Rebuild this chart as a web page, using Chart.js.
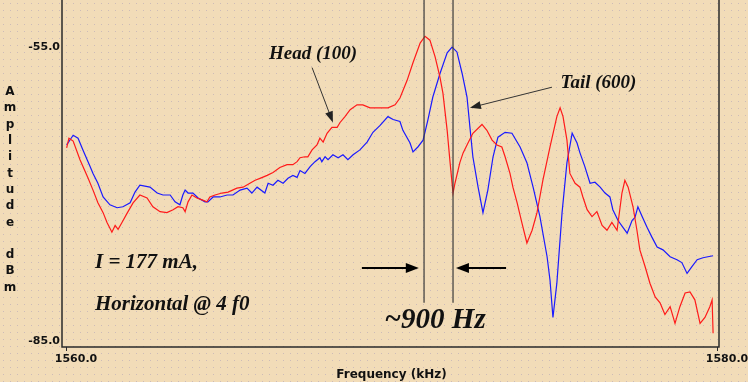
<!DOCTYPE html>
<html>
<head>
<meta charset="utf-8">
<script src="https://cdn.jsdelivr.net/npm/chart.js@4.4.1/dist/chart.umd.min.js"></script>
<style>
  html, body { margin: 0; padding: 0; }
  body {
    width: 748px; height: 382px; overflow: hidden;
    background-color: #F2DCB8;
    background-image: radial-gradient(circle, rgba(175,160,185,0.55) 0.7px, transparent 0.9px);
    background-size: 7px 7px;
  }
  #wrap { position: relative; width: 748px; height: 382px; }
</style>
</head>
<body>
<div id="wrap"><canvas id="c" width="748" height="382"></canvas></div>
<script>
// ---- data (frequency in kHz, level in dBm) ----
const headFreq = [1560.02,1560.09,1560.22,1560.43,1560.68,1560.83,1560.98,1561.14,1561.26,1561.35,1561.41,1561.51,1561.60,1561.72,1561.87,1562.06,
  1562.27,1562.49,1562.67,1562.89,1563.10,1563.29,1563.44,1563.59,1563.66,1563.75,1563.87,1564.02,1564.18,1564.33,1564.42,1564.58,1564.79,1564.98,1565.25,1565.44,1565.65,1565.81,1565.96,1566.18,1566.36,1566.57,1566.79,1566.97,1567.10,1567.19,1567.34,1567.43,1567.56,1567.71,1567.80,1567.90,1568.02,1568.17,1568.33,1568.42,1568.57,1568.73,1568.94,1569.12,1569.34,1569.65,1569.89,1570.11,1570.26,
  1570.48,1570.66,1570.88,1571.03,1571.18,1571.34,1571.49,1571.58,1571.71,1571.80,1571.89,1571.95,1572.10,1572.20,1572.35,1572.50,1572.78,1572.93,1573.09,1573.24,1573.39,1573.49,1573.64,1573.73,1573.86,1574.01,1574.16,1574.32,1574.47,1574.65,1574.87,1575.08,1575.18,1575.27,1575.39,1575.48,1575.64,1575.79,1575.88,1576.01,1576.16,1576.31,1576.47,1576.62,1576.77,1576.93,1577.08,1577.17,1577.27,1577.42,1577.54,1577.63,1577.79,1577.94,1578.10,1578.25,1578.40,1578.56,1578.71,1578.86,1579.02,1579.17,1579.32,1579.48,1579.63,1579.78,1579.85,1579.88];
const headDbm = [-65.3,-64.3,-64.6,-66.5,-68.4,-69.6,-70.9,-71.9,-72.9,-73.5,-73.9,-73.2,-73.6,-72.9,-72.0,-70.9,
  -70.1,-70.4,-71.3,-71.8,-71.9,-71.6,-71.3,-71.4,-71.8,-70.8,-70.1,-70.4,-70.6,-70.8,-70.3,-70.1,-69.9,-69.8,-69.4,-69.3,-68.9,-68.6,-68.4,-68.1,-67.8,-67.3,-67.0,-67.0,-66.7,-66.3,-66.2,-66.2,-65.5,-65.0,-64.3,-64.7,-63.8,-63.2,-63.2,-62.7,-62.1,-61.4,-60.9,-60.9,-61.2,-61.2,-61.2,-60.9,-60.2,
  -58.4,-56.6,-54.6,-53.9,-54.3,-56.0,-58.1,-59.7,-63.5,-66.8,-69.9,-68.9,-66.8,-65.8,-64.8,-63.8,-62.9,-63.5,-64.5,-65.0,-65.2,-66.2,-67.9,-69.3,-70.9,-73.0,-75.0,-73.7,-71.9,-68.6,-65.2,-62.1,-61.2,-62.1,-64.5,-67.9,-68.9,-69.3,-70.3,-71.6,-72.3,-71.8,-73.2,-73.7,-72.9,-73.7,-69.9,-68.6,-69.3,-71.3,-73.7,-75.7,-77.4,-79.1,-80.5,-81.1,-82.3,-81.5,-83.2,-81.5,-80.1,-80.0,-80.8,-83.2,-82.6,-81.5,-80.8,-84.2];

const tailFreq = [1560.02,1560.22,1560.37,1560.52,1560.74,1560.83,1560.98,1561.14,1561.35,1561.57,1561.75,1561.97,1562.12,
  1562.27,1562.58,1562.80,1562.98,1563.20,1563.35,1563.50,1563.59,1563.66,1563.75,1563.90,1564.06,1564.27,1564.36,1564.52,1564.73,1564.95,1565.13,1565.35,1565.56,1565.71,1565.87,1566.11,1566.21,1566.36,1566.51,1566.67,1566.82,1566.97,1567.10,1567.19,1567.34,1567.50,1567.65,1567.80,1567.86,1567.96,1568.05,1568.20,1568.36,1568.51,1568.66,1568.82,1569.03,1569.25,1569.43,1569.65,1569.89,1570.05,1570.26,
  1570.35,1570.57,1570.66,1570.81,1570.97,1571.12,1571.27,1571.49,1571.71,1571.86,1572.01,1572.17,1572.32,1572.41,1572.50,1572.66,1572.81,1572.96,1573.12,1573.27,1573.49,1573.70,1573.95,1574.16,1574.35,1574.56,1574.78,1574.87,1574.96,1575.08,1575.24,1575.39,1575.55,1575.70,1575.79,1575.94,1576.10,1576.25,1576.41,1576.56,1576.71,1576.80,1576.96,1577.11,1577.24,1577.39,1577.48,1577.57,1577.70,1577.85,1578.00,1578.16,1578.34,1578.56,1578.77,1578.92,1579.08,1579.23,1579.39,1579.57,1579.72,1579.88];
const tailDbm = [-65.0,-64.0,-64.3,-65.5,-67.2,-67.9,-68.9,-70.3,-71.1,-71.4,-71.3,-70.9,-69.8,
  -69.1,-69.3,-69.9,-70.1,-70.1,-70.8,-71.1,-70.1,-69.6,-69.9,-69.9,-70.4,-70.8,-70.8,-70.3,-70.3,-70.1,-70.1,-69.6,-69.4,-69.9,-69.3,-69.9,-68.9,-69.1,-68.6,-68.9,-68.4,-68.1,-68.3,-67.6,-67.9,-67.2,-66.7,-66.3,-66.7,-66.2,-66.5,-66.0,-66.3,-66.0,-66.5,-66.0,-65.5,-64.7,-63.7,-63.0,-62.1,-62.4,-62.6,
  -63.5,-64.8,-65.7,-65.2,-64.5,-62.4,-60.1,-57.7,-55.6,-55.0,-55.5,-57.7,-60.1,-63.2,-66.2,-69.3,-71.9,-69.6,-66.2,-64.2,-63.7,-63.8,-65.2,-66.8,-69.3,-72.3,-76.4,-78.8,-82.6,-79.1,-71.9,-66.8,-63.8,-64.8,-65.8,-67.2,-68.9,-68.8,-69.3,-69.9,-70.3,-71.6,-72.7,-73.4,-74.0,-72.7,-72.4,-71.3,-72.3,-73.4,-74.4,-75.4,-75.7,-76.4,-76.7,-77.0,-78.1,-77.4,-76.7,-76.5,-76.4,-76.3];

const seriesNames = ['Head (100)', 'Tail (600)'];
const xTickValues = [1560, 1580];
const yTickValues = [-85, -55];
const yTitleLetters = ['A','m','p','l','i','t','u','d','e','','d','B','m'];

// annotation anchors in data units
const markerFreqs = [1571.0, 1571.89];        // vertical marker lines
const markerBottom = -81.1;
const arrowLevel = -77.55;
const leftArrow = [1569.09, 1570.84];
const rightArrow = [1573.52, 1571.98];
const headLabel = { x: 1567.59, y: -55.7, from: [1567.56, -57.1], to: [1568.20, -62.7] };
const tailLabel = { x: 1576.36, y: -58.7, from: [1574.93, -59.1], to: [1572.41, -61.2] };
const deltaLabel = { text: '~900 Hz', x: 1571.34, y: -82.9 };
const noteLines = [
  { text: 'I = 177 mA,', x: 1560.89, y: -77.0 },
  { text: 'Horizontal @ 4 f0', x: 1560.89, y: -81.3 }
];

const toPts = (xs, ys) => xs.map((x, i) => ({ x: x, y: ys[i] }));

function arrowHead(ctx, x1, y1, x2, y2, len, wid) {
  const a = Math.atan2(y2 - y1, x2 - x1);
  ctx.beginPath();
  ctx.moveTo(x2, y2);
  ctx.lineTo(x2 - len * Math.cos(a) + wid * Math.sin(a), y2 - len * Math.sin(a) - wid * Math.cos(a));
  ctx.lineTo(x2 - len * Math.cos(a) - wid * Math.sin(a), y2 - len * Math.sin(a) + wid * Math.cos(a));
  ctx.closePath();
  ctx.fill();
}

const decor = {
  id: 'decor',
  afterDraw(chart) {
    const ctx = chart.ctx;
    const xs = chart.scales.x, ys = chart.scales.y;
    const ca = chart.chartArea;
    ctx.save();
    // frame
    ctx.strokeStyle = '#2a2a2a';
    ctx.lineWidth = 1.5;
    const fl = ca.left - 4, fr = ca.right + 2, fb = ca.bottom + 6;
    ctx.beginPath();
    ctx.moveTo(fl, 0); ctx.lineTo(fl, fb); ctx.lineTo(fr, fb); ctx.lineTo(fr, 0);
    ctx.stroke();
    ctx.lineWidth = 1;
    xTickValues.forEach(v => {
      const px = Math.round(xs.getPixelForValue(v)) + 0.5;
      ctx.beginPath(); ctx.moveTo(px, fb); ctx.lineTo(px, fb + 4); ctx.stroke();
    });
    // y title letters
    ctx.fillStyle = '#111';
    ctx.font = 'bold 12px "DejaVu Sans"';
    ctx.textAlign = 'center';
    ctx.textBaseline = 'middle';
    yTitleLetters.forEach((ch, i) => { if (ch) ctx.fillText(ch, 10, 92 + i * 16.3); });

    // vertical marker lines
    ctx.strokeStyle = '#3a3a3a';
    ctx.lineWidth = 1.2;
    markerFreqs.forEach(f => {
      const px = xs.getPixelForValue(f);
      ctx.beginPath(); ctx.moveTo(px, ca.top); ctx.lineTo(px, ys.getPixelForValue(markerBottom)); ctx.stroke();
    });
    // horizontal arrows
    ctx.strokeStyle = '#000'; ctx.fillStyle = '#000'; ctx.lineWidth = 2;
    const ay = ys.getPixelForValue(arrowLevel);
    [leftArrow, rightArrow].forEach(a => {
      const x1 = xs.getPixelForValue(a[0]), x2 = xs.getPixelForValue(a[1]);
      const dir = Math.sign(x2 - x1);
      ctx.beginPath(); ctx.moveTo(x1, ay); ctx.lineTo(x2 - dir * 8, ay); ctx.stroke();
      arrowHead(ctx, x1, ay, x2, ay, 13, 5);
    });
    // label arrows
    ctx.strokeStyle = '#333'; ctx.fillStyle = '#222'; ctx.lineWidth = 1;
    [headLabel, tailLabel].forEach(l => {
      const x1 = xs.getPixelForValue(l.from[0]), y1 = ys.getPixelForValue(l.from[1]);
      const x2 = xs.getPixelForValue(l.to[0]), y2 = ys.getPixelForValue(l.to[1]);
      const a = Math.atan2(y2 - y1, x2 - x1);
      ctx.beginPath(); ctx.moveTo(x1, y1); ctx.lineTo(x2 - 8 * Math.cos(a), y2 - 8 * Math.sin(a)); ctx.stroke();
      arrowHead(ctx, x1, y1, x2, y2, 11, 4);
    });
    // texts
    ctx.fillStyle = '#111';
    ctx.textBaseline = 'middle';
    ctx.textAlign = 'center';
    ctx.font = 'italic bold 19px "Liberation Serif"';
    ctx.fillText(seriesNames[0], xs.getPixelForValue(headLabel.x), ys.getPixelForValue(headLabel.y));
    ctx.fillText(seriesNames[1], xs.getPixelForValue(tailLabel.x), ys.getPixelForValue(tailLabel.y));
    ctx.font = 'italic bold 29px "Liberation Serif"';
    ctx.fillText(deltaLabel.text, xs.getPixelForValue(deltaLabel.x), ys.getPixelForValue(deltaLabel.y));
    ctx.textAlign = 'left';
    ctx.font = 'italic bold 21px "Liberation Serif"';
    noteLines.forEach(n => ctx.fillText(n.text, xs.getPixelForValue(n.x), ys.getPixelForValue(n.y)));
    ctx.restore();
  }
};

new Chart(document.getElementById('c'), {
  type: 'line',
  data: {
    datasets: [
      { label: seriesNames[0], data: toPts(headFreq, headDbm), borderColor: '#ff1a1a', borderWidth: 1.2, pointRadius: 0, tension: 0, fill: false },
      { label: seriesNames[1], data: toPts(tailFreq, tailDbm), borderColor: '#1a1aff', borderWidth: 1.2, pointRadius: 0, tension: 0, fill: false }
    ]
  },
  options: {
    responsive: false,
    animation: false,
    layout: { padding: { left: 0, right: 31, top: 0, bottom: 0 } },
    plugins: { legend: { display: false }, tooltip: { enabled: false } },
    scales: {
      x: {
        type: 'linear', min: 1560, max: 1580,
        afterBuildTicks: s => { s.ticks = xTickValues.map(v => ({ value: v })); },
        afterFit: s => { s.height = 41; s.paddingLeft = 0; s.paddingRight = 0; },
        grid: { display: false, drawTicks: false },
        border: { display: false },
        ticks: { padding: 12, labelOffset: 10, color: '#111', font: { family: 'DejaVu Sans', size: 11, weight: 'bold' }, callback: v => Number(v).toFixed(1), maxRotation: 0, autoSkip: false },
        title: { display: true, text: 'Frequency (kHz)', color: '#111', font: { family: 'DejaVu Sans', size: 12, weight: 'bold' }, padding: { top: 0, bottom: 0 } }
      },
      y: {
        type: 'linear', min: -85, max: -50.2,
        afterBuildTicks: s => { s.ticks = yTickValues.map(v => ({ value: v })); },
        afterFit: s => { s.width = 66; s.paddingTop = 0; s.paddingBottom = 0; },
        grid: { display: false, drawTicks: false },
        border: { display: false },
        ticks: { padding: 6, color: '#111', font: { family: 'DejaVu Sans', size: 11, weight: 'bold' }, callback: v => Number(v).toFixed(1), autoSkip: false }
      }
    }
  },
  plugins: [decor]
});
</script>
</body>
</html>
